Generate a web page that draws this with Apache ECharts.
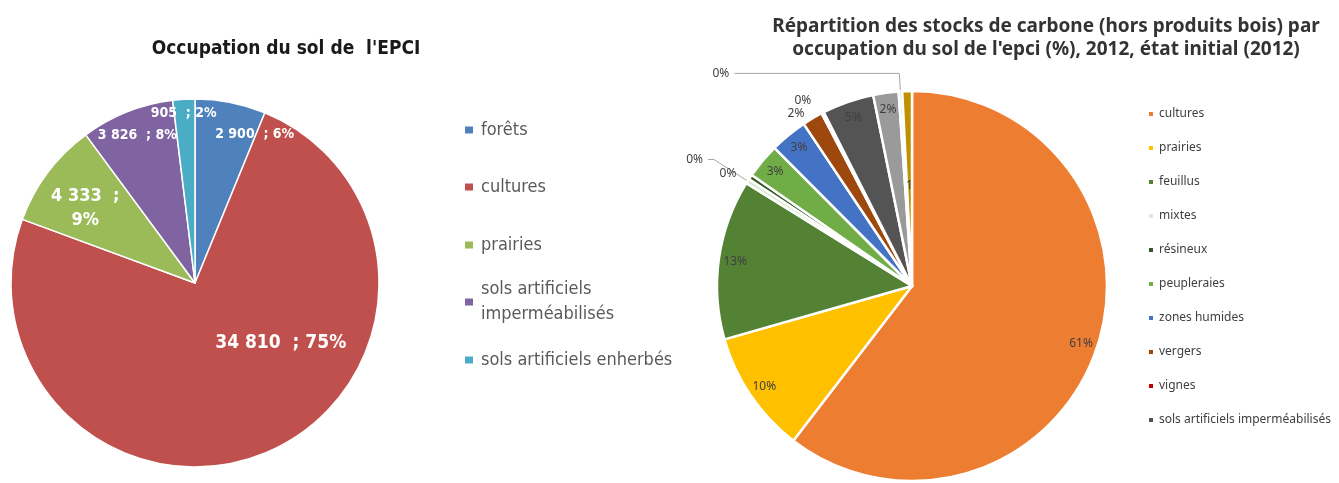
<!DOCTYPE html>
<html>
<head>
<meta charset="utf-8">
<script src="https://cdn.jsdelivr.net/npm/echarts@6/dist/echarts.min.js"></script>
<style>
  html, body { margin: 0; padding: 0; background: #fff; }
  #chart { width: 1339px; height: 483px; }
</style>
</head>
<body>
<div id="chart"></div>
<script>
// ---- graphique de gauche : occupation du sol (ha ; %)
var leftCats = ['forêts', 'cultures', 'prairies', 'sols artificiels imperméabilisés', 'sols artificiels enherbés'];
var leftValues = [2900, 34810, 4333, 3826, 905];
var leftPct = [6, 75, 9, 8, 2];
var leftColors = ['#4F81BD', '#C0504D', '#9BBB59', '#8064A2', '#4BACC6'];

// ---- graphique de droite : stocks de carbone (%)
var rightCats = ['cultures', 'prairies', 'feuillus', 'mixtes', 'résineux', 'peupleraies', 'zones humides',
    'vergers', 'vignes', 'sols artificiels imperméabilisés', 'sols artificiels enherbés',
    'sols artificiels arborés et buissonnants', 'haies'];
var rightValues = [60.6, 10.2, 13.3, 0.4, 0.4, 2.9, 3.1, 1.7, 0.2, 4.3, 2.1, 0.3, 0.8];
var rightLabels = ['61%', '10%', '13%', '0%', '0%', '3%', '3%', '2%', '0%', '5%', '2%', '0%', '1'];
var rightColors = ['#ED7D31', '#FFC000', '#548235', '#D9EAD0', '#375623', '#70AD47', '#4472C4',
    '#9E480E', '#C00000', '#545454', '#9A9A9A', '#EDEDED', '#BF9000'];
var rightLegendCount = 10;

var narrow = "'Liberation Sans Narrow', 'DejaVu Sans Condensed', sans-serif";
var sans = "'Noto Sans', 'Open Sans', sans-serif";

// etiquettes du graphique de gauche : taille et petit decalage (comme dans Excel)
var leftLabelSize = [14, 19, 18, 14, 14];
var leftNudge = [[30, 2], [24, -80], [13, 18], [-1, -5], [-2, -16]];
var leftLegendY = [130, 187, 245, 302, 360];

// etiquettes exterieures du graphique de droite
var rightOutside = {
    3: { show: true, length: 40, length2: 6 },
    4: { show: false, length: 6, length2: 4 },
    7: { show: false, length: 6, length2: 0 },
    8: { show: false, length: 14, length2: 0 },
    11: { show: true, length: 18, length2: 165 }
};

function spaced(n) {
    return String(n).replace(/\B(?=(\d{3})+(?!\d))/g, ' ');
}

var myChart = echarts.init(document.getElementById('chart'));

var leftLegends = leftCats.map(function (name, i) {
    var twoLines = name.length > 26;
    var lh = 25;
    var blockH = twoLines ? lh * 3 : lh;
    return {
        data: [{ name: name, itemStyle: { color: leftColors[i] } }],
        left: 463,
        top: leftLegendY[i] - blockH / 2,
        orient: 'vertical',
        padding: 0,
        icon: 'rect',
        itemWidth: 10,
        itemHeight: 9,
        selectedMode: false,
        formatter: function (n) {
            return twoLines ? n.replace('artificiels ', 'artificiels\n') : n;
        },
        textStyle: {
            fontFamily: narrow, fontSize: 18, lineHeight: lh, color: '#5a5a5a',
            padding: [twoLines ? lh : 0, 0, 0, 2]
        }
    };
});

var rightLegend = {
    data: rightCats.slice(0, rightLegendCount).map(function (name, i) {
        return { name: name, itemStyle: { color: rightColors[i] } };
    }),
    left: 1147,
    top: 107,
    orient: 'vertical',
    padding: 0,
    icon: 'rect',
    itemWidth: 6,
    itemHeight: 6,
    itemGap: 20,
    selectedMode: false,
    textStyle: { fontFamily: sans, fontSize: 12, lineHeight: 14, color: '#404040' }
};

var option = {
    backgroundColor: '#fff',
    animation: false,
    title: [{
        text: "Occupation du sol de  l'EPCI",
        left: 286, top: 37, padding: 0,
        textAlign: 'center', textVerticalAlign: 'top',
        textStyle: { fontFamily: narrow, fontSize: 19, fontWeight: 'bold', lineHeight: 24, color: '#1a1a1a' }
    }, {
        text: "Répartition des stocks de carbone (hors produits bois) par\noccupation du sol de l'epci (%), 2012, état initial (2012)",
        left: 1046, top: 15, padding: 0,
        textAlign: 'center', textVerticalAlign: 'top',
        textStyle: { fontFamily: sans, fontSize: 19, fontWeight: 'bold', lineHeight: 23, color: '#333' }
    }],
    legend: leftLegends.concat([rightLegend]),
    series: [{
        name: 'occupation',
        type: 'pie',
        center: [195, 283],
        radius: [0, 184],
        startAngle: 90,
        clockwise: true,
        silent: true,
        itemStyle: { borderColor: '#fff', borderWidth: 1.5 },
        label: { show: false },
        labelLine: { show: false },
        data: leftCats.map(function (n, i) {
            return { name: n, value: leftValues[i], itemStyle: { color: leftColors[i] } };
        })
    }, {
        name: 'occupation-etiquettes',
        type: 'pie',
        center: [195, 283],
        radius: [117, 184],
        startAngle: 90,
        clockwise: true,
        silent: true,
        itemStyle: { color: 'rgba(0,0,0,0)', borderWidth: 0 },
        label: {
            show: true,
            position: 'inside',
            fontFamily: narrow,
            fontWeight: 'bold',
            lineHeight: 24,
            color: '#fff',
            formatter: function (p) {
                var sep = p.dataIndex === 2 ? '\n' : ' ';
                return spaced(leftValues[p.dataIndex]) + '  ;' + sep + leftPct[p.dataIndex] + '%';
            }
        },
        labelLayout: function (p) {
            var n = leftNudge[p.dataIndex];
            return { dx: n[0], dy: n[1] };
        },
        data: leftCats.map(function (n, i) {
            return { name: n, value: leftValues[i], label: { fontSize: leftLabelSize[i] } };
        })
    }, {
        name: 'carbone',
        type: 'pie',
        center: [912, 286],
        radius: [0, 195],
        startAngle: 90,
        clockwise: true,
        silent: true,
        itemStyle: { borderColor: '#fff', borderWidth: 2.5 },
        label: { show: false },
        labelLine: { show: false },
        data: rightCats.map(function (n, i) {
            var d = { name: n, value: rightValues[i], itemStyle: { color: rightColors[i] } };
            if (i === rightCats.length - 1) {
                d.label = {
                    show: true, position: 'inside', formatter: rightLabels[i],
                    fontFamily: sans, fontSize: 12, color: '#404040'
                };
            }
            return d;
        })
    }, {
        name: 'carbone-etiquettes',
        type: 'pie',
        center: [912, 286],
        radius: [156, 195],
        startAngle: 90,
        clockwise: true,
        silent: true,
        avoidLabelOverlap: false,
        itemStyle: { color: 'rgba(0,0,0,0)', borderWidth: 0 },
        label: {
            show: true,
            position: 'inside',
            fontFamily: sans,
            fontSize: 12,
            color: '#404040',
            formatter: function (p) { return rightLabels[p.dataIndex]; }
        },
        labelLine: { show: false, lineStyle: { color: '#a6a6a6', width: 1 } },
        data: rightCats.map(function (n, i) {
            var d = { name: n, value: rightValues[i] };
            if (rightOutside[i]) {
                d.label = { position: 'outside' };
                d.labelLine = rightOutside[i];
            }
            if (i === rightCats.length - 1) {
                d.label = { show: false };
            }
            return d;
        })
    }]
};

myChart.setOption(option);
</script>
</body>
</html>
